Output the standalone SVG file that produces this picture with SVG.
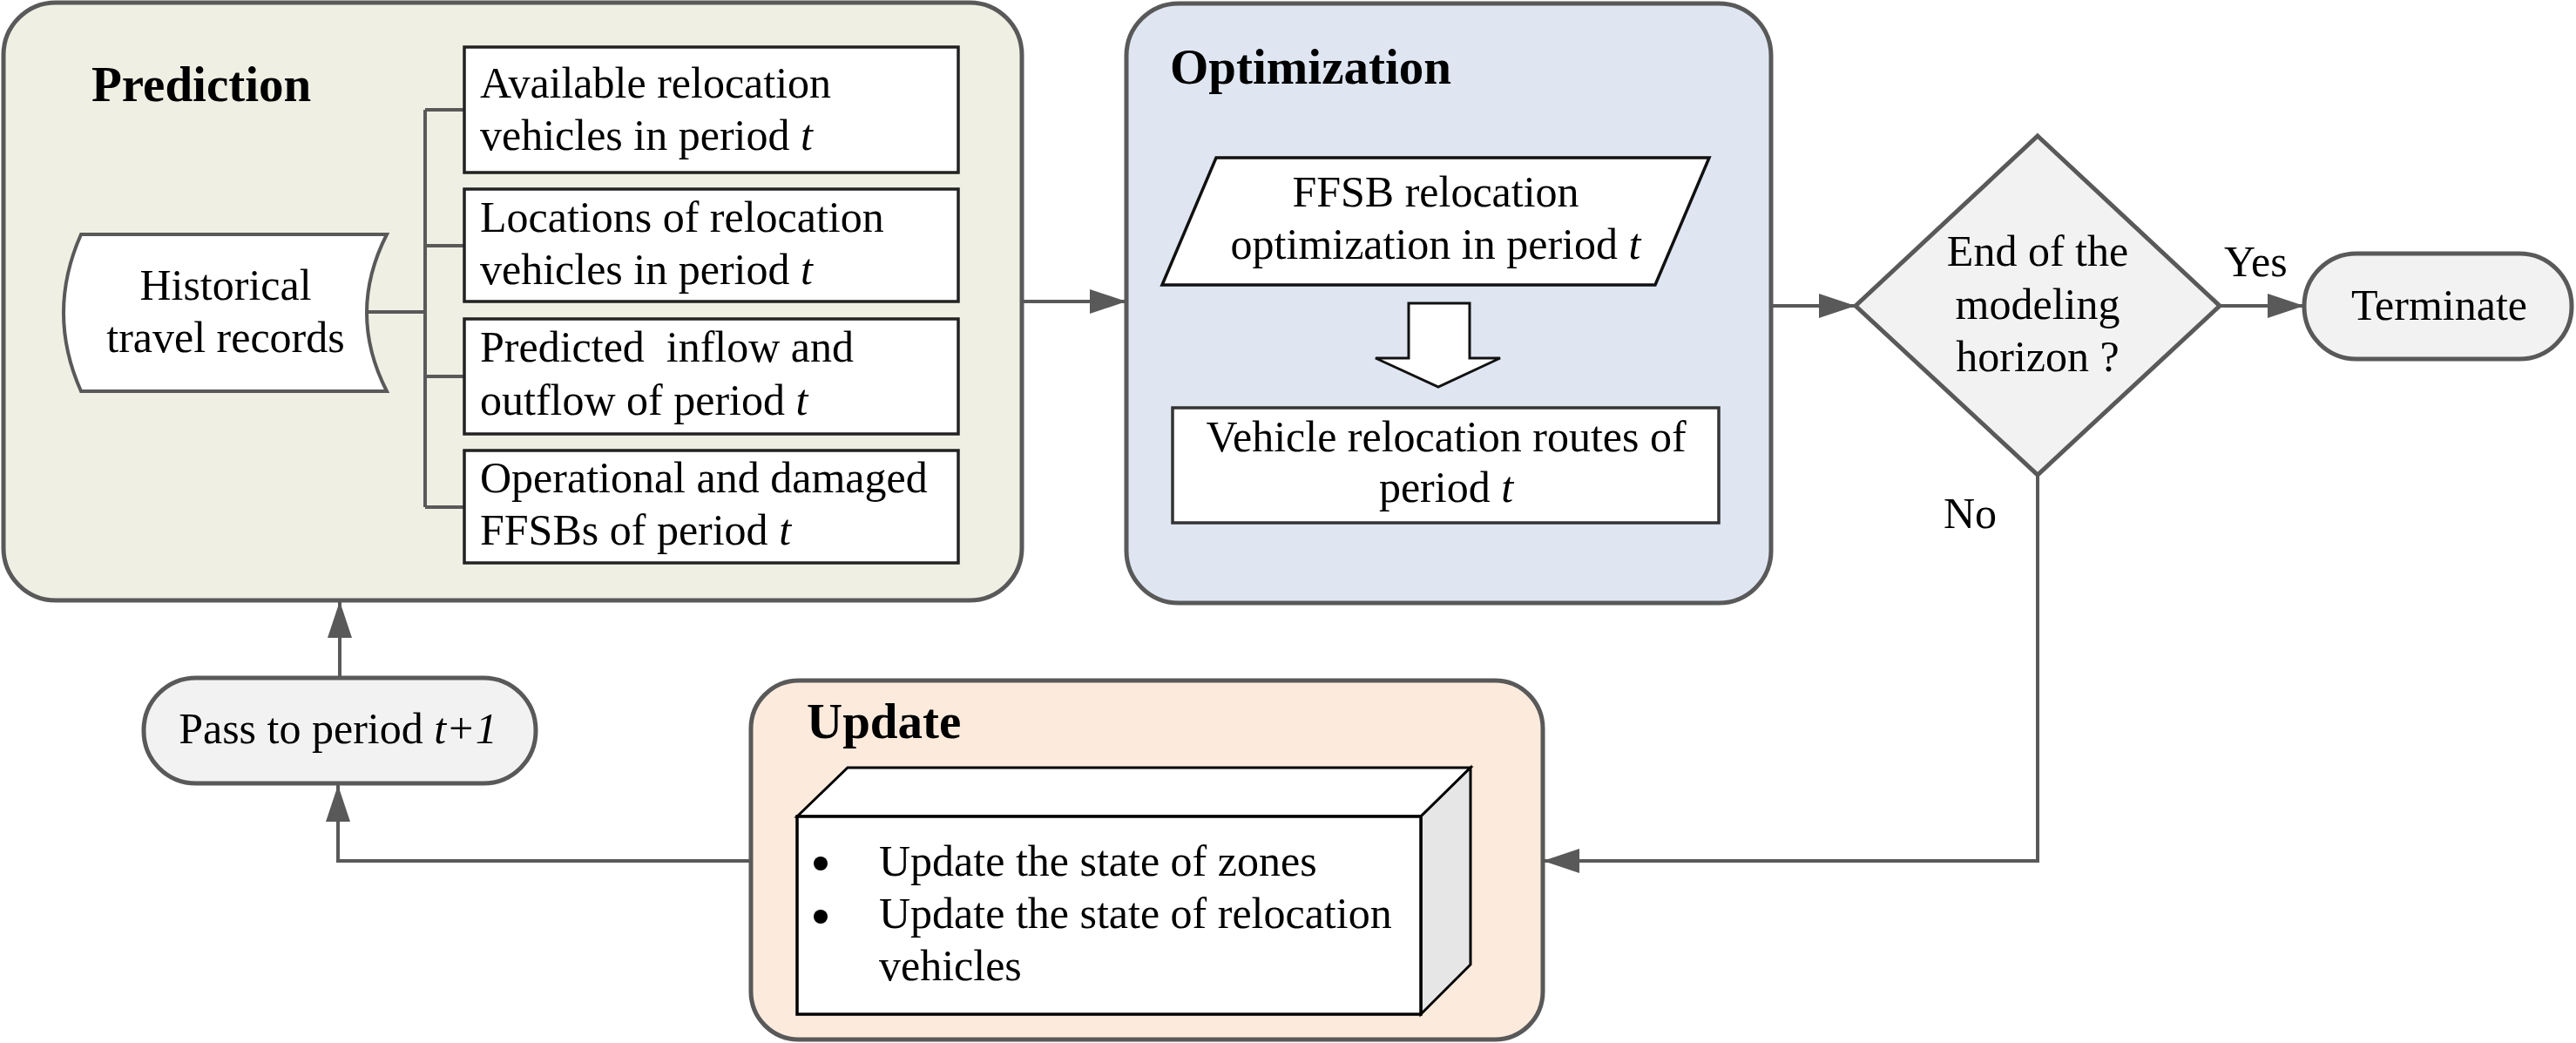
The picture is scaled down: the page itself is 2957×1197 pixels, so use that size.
<svg xmlns="http://www.w3.org/2000/svg" width="2957" height="1197" viewBox="0 0 2957 1197">
<style>
text{font-family:"Liberation Serif","Times New Roman",serif;font-size:50px;fill:#000}
.b{font-weight:bold;font-size:57px}
.c{text-anchor:middle}
.i{font-style:italic}
.cont{stroke:#595959;stroke-width:5}
.conn{fill:none;stroke:#595959;stroke-width:4}
.box{fill:#fff;stroke:#222;stroke-width:3.5}
.grey{fill:#F2F2F2;stroke:#595959;stroke-width:5}
</style>
<defs>
<marker id="ah" viewBox="0 0 42 28" refX="42" refY="14" markerWidth="42" markerHeight="28" markerUnits="userSpaceOnUse" orient="auto">
<path d="M0,0 L42,14 L0,28 Z" fill="#595959"/>
</marker>
</defs>

<g id="prediction">
<rect class="cont" x="4" y="3" width="1169" height="686" rx="60" ry="60" fill="#EFEFE4"/>
<text class="b" x="105" y="116">Prediction</text>
<path d="M93,269 L444,269 Q398,359 444,449 L93,449 Q53,359 93,269 Z" fill="#fff" stroke="#595959" stroke-width="4"/>
<text class="c" x="259" y="344">Historical</text>
<text class="c" x="259" y="404">travel records</text>
<path class="conn" d="M421,358 H488 M488,126 V582 M488,126 H533 M488,282 H533 M488,432 H533 M488,582 H533"/>
<rect class="box" x="533" y="54" width="567" height="144"/>
<text x="551" y="112">Available relocation</text>
<text x="551" y="172">vehicles in period <tspan class="i">t</tspan></text>
<rect class="box" x="533" y="217" width="567" height="129"/>
<text x="551" y="266">Locations of relocation</text>
<text x="551" y="326">vehicles in period <tspan class="i">t</tspan></text>
<rect class="box" x="533" y="366" width="567" height="132"/>
<text x="551" y="415" xml:space="preserve">Predicted  inflow and</text>
<text x="551" y="476">outflow of period <tspan class="i">t</tspan></text>
<rect class="box" x="533" y="517" width="567" height="129"/>
<text x="551" y="565">Operational and damaged</text>
<text x="551" y="625">FFSBs of period <tspan class="i">t</tspan></text>
</g>

<g id="optimization">
<rect class="cont" x="1293" y="4" width="740" height="688" rx="60" ry="60" fill="#DFE6F2"/>
<text class="b" x="1343" y="96">Optimization</text>
<polygon points="1396,181 1962,181 1900,327 1334,327" fill="#fff" stroke="#111" stroke-width="3.5"/>
<text class="c" x="1648" y="237">FFSB relocation</text>
<text class="c" x="1648" y="297">optimization in period <tspan class="i">t</tspan></text>
<polygon points="1617,348 1687,348 1687,411 1722,411 1651,444 1579,411 1617,411" fill="#fff" stroke="#111" stroke-width="3"/>
<rect x="1346" y="468" width="627" height="132" fill="#fff" stroke="#333" stroke-width="3.5"/>
<text class="c" x="1660" y="518">Vehicle relocation routes of</text>
<text class="c" x="1660" y="576">period <tspan class="i">t</tspan></text>
</g>

<g id="decision">
<polygon class="grey" points="2339,156 2548,351 2339,545 2130,351"/>
<text class="c" x="2339" y="305">End of the</text>
<text class="c" x="2339" y="366">modeling</text>
<text class="c" x="2339" y="426">horizon ?</text>
</g>

<g id="terminate">
<rect class="grey" x="2645" y="291" width="307" height="121" rx="60" ry="60"/>
<text class="c" x="2800" y="367">Terminate</text>
</g>

<g id="update">
<rect class="cont" x="862" y="781" width="909" height="412" rx="55" ry="55" fill="#FCEBDD"/>
<text class="b" x="926" y="847">Update</text>
<polygon points="915,937 973,881 1688,881 1631,937" fill="#fff" stroke="#000" stroke-width="3"/>
<polygon points="1631,937 1688,881 1688,1107 1631,1164" fill="#E6E6E6" stroke="#000" stroke-width="3"/>
<rect x="915" y="937" width="716" height="227" fill="#fff" stroke="#000" stroke-width="3.5"/>
<circle cx="942" cy="991" r="8" fill="#000"/>
<circle cx="942" cy="1052" r="8" fill="#000"/>
<text x="1009" y="1005">Update the state of zones</text>
<text x="1009" y="1065">Update the state of relocation</text>
<text x="1009" y="1125">vehicles</text>
</g>

<g id="pass">
<rect class="grey" x="165" y="778" width="450" height="121" rx="60" ry="60"/>
<text class="c" x="388" y="853">Pass to period <tspan class="i">t+1</tspan></text>
</g>

<g id="connectors">
<path class="conn" d="M1173,346 H1293" marker-end="url(#ah)"/>
<path class="conn" d="M2033,351 H2130" marker-end="url(#ah)"/>
<path class="conn" d="M2548,351 H2645" marker-end="url(#ah)"/>
<path class="conn" d="M2339,545 V988 H1771" marker-end="url(#ah)"/>
<path class="conn" d="M862,988 H388 V901" marker-end="url(#ah)"/>
<path class="conn" d="M390,778 V690" marker-end="url(#ah)"/>
<text x="2553" y="317">Yes</text>
<text x="2231" y="606">No</text>
</g>
</svg>
